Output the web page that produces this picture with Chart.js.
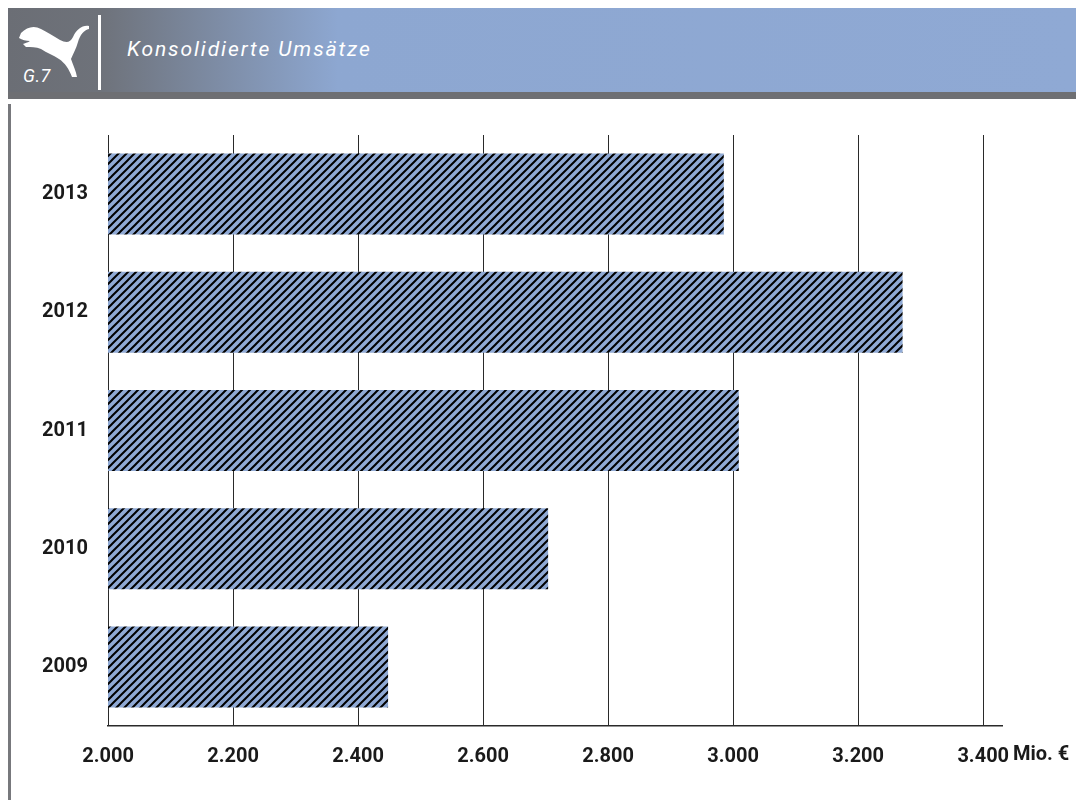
<!DOCTYPE html>
<html>
<head>
<meta charset="utf-8">
<script src="https://cdn.jsdelivr.net/npm/chart.js@4"></script>
<style>
  html, body { margin: 0; padding: 0; background: #fff; }
  body { width: 1076px; height: 800px; position: relative; overflow: hidden; font-family: Roboto, sans-serif; }
  #header {
    position: absolute; left: 8px; top: 8px; width: 1068px; height: 84px;
    background: linear-gradient(to right, #6b6e75 0px, #6e727a 92px, #8da7d1 330px, #8fa9d4 1068px);
  }
  #band { position: absolute; left: 8px; top: 92px; width: 1068px; height: 7px; background: #6e6f73; }
  #sep { position: absolute; left: 98px; top: 15px; width: 3px; height: 75px; background: #fff; }
  #title { position: absolute; left: 127px; top: 37px; color: #fff; font-style: italic; font-size: 21px; letter-spacing: 1.9px; }
  #gnum { position: absolute; left: 23px; top: 65px; color: #fff; font-style: italic; font-size: 18px; letter-spacing: 0.5px; }
  #logo { position: absolute; left: 0; top: 0; }
  #leftline { position: absolute; left: 8px; top: 104px; width: 3px; height: 696px; background: #77787c; }
  #wrap { position: absolute; left: 0; top: 0; width: 1076px; height: 800px; }
</style>
</head>
<body>
<div id="header"></div>
<div id="band"></div>
<svg id="logo" width="110" height="95">
  <path fill="#fff" d="M21,33 C27,27 34,25 41,29 C48,33 54,36 60,40 C66,43 70,43 73,37 C77,29 82,25 89,26 L89,29 C84,30 80,35 78,42 C76,49 73,54 71,59 C73,65 76,71 77,77 L72,77 C69,69 65,63 59,59 C53,55 47,53 41,49 C36,47 31,47 26,47 L23,44 C27,43 30,41 30,41 C26,41 22,40 19,38 Z"/>
</svg>
<div id="sep"></div>
<div id="gnum">G.7</div>
<div id="title">Konsolidierte Umsätze</div>
<div id="leftline"></div>
<div id="wrap"><canvas id="chart" width="1076" height="800"></canvas></div>
<script>
// consolidated sales, million EUR
const years = ['2013', '2012', '2011', '2010', '2009'];
const sales = [2985, 3271, 3009, 2704, 2448];
const tickValues = [2000, 2200, 2400, 2600, 2800, 3000, 3200, 3400];
const axisMin = 2000;
const axisMax = 3430;
const unitLabel = 'Mio. €';

// diagonal hatch fill
function makeHatch() {
    const c = document.createElement('canvas');
    c.width = 8;
    c.height = 8;
    const g = c.getContext('2d');
    g.fillStyle = '#8fa9d4';
    g.fillRect(0, 0, 8, 8);
    g.strokeStyle = '#000';
    g.lineWidth = 2;
    g.beginPath();
    g.moveTo(-1, 9); g.lineTo(9, -1);
    g.moveTo(-5, 5); g.lineTo(5, -5);
    g.moveTo(3, 13); g.lineTo(13, 3);
    g.stroke();
    return g.createPattern(c, 'repeat');
}

const fmt = v => v.toLocaleString('de-DE');

const unitPlugin = {
    id: 'unitLabel',
    afterDraw(chart) {
        const ctx = chart.ctx;
        const x = chart.scales.x;
        ctx.save();
        ctx.font = 'bold 20px Roboto';
        ctx.fillStyle = '#1a1a1a';
        ctx.textAlign = 'left';
        ctx.textBaseline = 'top';
        ctx.fillText(unitLabel, 1013, x.top + 19);
        ctx.restore();
    }
};

const ctx = document.getElementById('chart').getContext('2d');
new Chart(ctx, {
    type: 'bar',
    data: {
        labels: years,
        datasets: [{
            data: sales,
            backgroundColor: makeHatch(),
            borderWidth: 0,
            categoryPercentage: 1,
            barPercentage: 0.685
        }]
    },
    options: {
        indexAxis: 'y',
        responsive: false,
        animation: false,
        layout: { padding: { left: 0, top: 135, right: 74, bottom: 0 } },
        plugins: { legend: { display: false }, tooltip: { enabled: false } },
        scales: {
            x: {
                min: axisMin,
                max: axisMax,
                afterBuildTicks: s => { s.ticks = tickValues.map(v => ({ value: v })); },
                afterFit: s => { s.height = 74; },
                grid: { color: '#2a2a2a', lineWidth: 1, drawTicks: false },
                border: { color: '#2a2a2a', width: 1.5 },
                ticks: {
                    autoSkip: false,
                    padding: 19,
                    maxRotation: 0,
                    color: '#1a1a1a',
                    font: { family: 'Roboto', size: 20, weight: 'bold' },
                    callback: v => fmt(v)
                }
            },
            y: {
                afterFit: s => { s.width = 108; },
                grid: { display: false, drawTicks: false },
                border: { display: false },
                ticks: {
                    padding: 20,
                    color: '#1a1a1a',
                    font: { family: 'Roboto', size: 20, weight: 'bold' }
                }
            }
        }
    },
    plugins: [unitPlugin]
});
</script>
</body>
</html>
